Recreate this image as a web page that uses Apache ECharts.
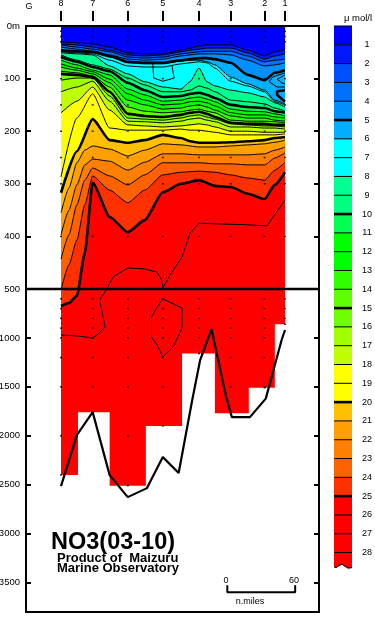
<!DOCTYPE html>
<html><head><meta charset="utf-8">
<style>html,body{margin:0;padding:0;background:#fff}#c{width:375px;height:618px}</style>
<script src="https://cdn.jsdelivr.net/npm/echarts@6/dist/echarts.min.js"></script>
</head><body><div id="c"></div>
<script>
// distance along section in n.miles, depth in metres
const stationNames = ['8','7','6','5','4','3','2','1'];
const stationMiles = [31,59,90,121,153,181,211,229];
const stationLast  = [2400,1760,2510,1900,1160,1770,1510,860];
const sampleDepths = [10,20,30,100,150,200,250,300,400,500,600,700,800,900,1000,1200,1500,2000,2500];
const depthTicks = [0,100,200,300,400,500,1000,1500,2000,2500,3000,3500];
const levelTicks = [1,2,3,4,5,6,7,8,9,10,11,12,13,14,15,16,17,18,19,20,21,22,23,24,25,26,27,28];
const bandColors = ['#0000ff','#0018ff','#0050ff','#0070ff','#0090ff','#00b0ff','#00ffff','#00ffff','#00ff90','#00ff80','#00ff50','#00ff00','#00ff00','#30ff00','#60ff00','#70ff00','#a0ff00','#c0ff00','#ffff00','#ffff00','#ffc000','#ffa000','#ff8000','#ff6000','#ff3000','#ff0000','#ff0000','#ff0000','#ff0000'];

const upperMiles = [31,45,59,74,90,105,121,137,145,153,160,167,181,196,211,220,229];
const L01 = [30,32,34,40,51,53,53,46,42,38,36,36,36,46,57,49,44];
const L02 = [34,36,40,46,55,57,55,49,46,44,42,42,42,51,63,57,53];
const L03 = [36,40,44,49,59,61,59,53,51,49,48,48,48,57,68,65,63];
const L04 = [40,44,48,55,63,65,63,57,55,53,53,53,55,65,76,74,70];
const L05 = [46,48,49,57,68,70,70,65,63,61,61,63,70,93,103,89,84];
const L06 = [48,49,51,59,70,72,72,67,65,65,68,74,97,110,122,141,148];
const L07 = [49,51,53,65,76,78,78,72,70,68,70,80,105,114,125,144,150];
const L08 = [51,53,55,76,91,106,116,120,106,80,106,114,122,127,135,146,154];
const L09 = [55,65,74,82,99,112,125,125,122,114,118,125,141,144,148,156,162];
const L10 = [59,68,78,86,108,122,135,133,129,127,131,137,150,154,156,162,165];
const L11 = [65,74,84,93,120,131,143,141,137,135,139,144,158,162,163,167,171];
const L12 = [72,80,87,101,129,141,150,148,144,143,146,152,165,169,169,173,175];
const L13 = [78,84,91,108,141,150,158,156,152,150,154,160,171,175,175,179,181];
const L14 = [86,89,95,116,154,162,165,163,160,158,162,165,179,181,181,182,184];
const L15 = [91,93,97,125,167,171,173,169,165,163,167,173,184,186,186,188,188];
const L16 = [103,99,99,133,175,177,179,175,171,169,173,177,186,188,190,190,192];
const L17 = [125,116,105,143,181,182,184,181,177,175,179,182,192,192,194,194,196];
const L18 = [165,143,116,160,188,190,192,190,188,186,188,192,200,200,202,202,202];
const L19 = [287,175,129,194,198,198,198,196,198,198,200,202,207,207,207,207,205];
const L20 = [317,238,177,217,222,217,207,213,219,222,222,222,221,219,217,213,211];

const lowerMiles = [31,38,45,52,59,74,90,105,121,137,153,167,181,196,211,220,229];
const L21 = [355,308,260,236,228,234,247,236,224,226,230,230,228,226,224,221,217];
const L22 = [397,350,302,264,253,257,274,259,243,243,245,245,245,245,243,236,230];
const L23 = [443,397,340,293,270,285,302,283,260,260,260,262,262,264,264,251,241];
const L24 = [510,454,407,340,285,312,336,312,283,278,276,278,283,289,293,274,259];
const L25 = [674,643,572,432,298,363,392,369,316,300,293,304,306,319,329,302,278];

const L26Miles  = [31,45,59,65,70,67,65,71,77,90,105,116,120,121,127,138,145,153,196,213,229];
const L26Depths = [969,980,1000,949,888,714,612,510,477,460,462,468,483,498,475,439,394,375,378,380,331];
const bubbleMiles  = [121,138,138,130,121,116,111,111,116,121];
const bubbleDepths = [602,694,899,1093,1195,1073,991,786,684,602];
const pocketMiles  = [112,113,121,131,129];
const pocketDepths = [70,99,105,99,74];
const loopOuterMiles  = [229,218,215,222,229];
const loopOuterDepths = [89,97,106,116,116];
const loopInnerMiles  = [229,222,226,229];
const loopInnerDepths = [93,101,108,110];
const thickCMiles  = [229,222,222,229];
const thickCDepths = [122,124,131,144];

const stepMiles  = [30.5,46,46,74,74,106,106,138,138,167,167,197,197,220,220,229.5];
const stepDepths = [2400,2400,1760,1760,2510,2510,1900,1900,1160,1160,1770,1770,1510,1510,860,860];
const bottomMiles  = [31,45,59,74,90,107,121,135,147,154,164,177,182,198,212,226,229];
const bottomDepths = [2514,1993,1758,2402,2627,2535,2218,2381,1635,1226,909,1604,1809,1809,1620,1021,919];

const scaleBarMiles = [178,238];
const scaleBarDepths = [3598,3527];

const R = 0.186;
const yOf = d => d <= 500 ? d : 500 + (d - 500) * R;
const dOf = y => y <= 500 ? y : 500 + (y - 500) / R;
const yMax = 1114, xMin = 0.0625, xMax = 259.05;
const pairs = (xs, ds) => xs.map((x, i) => [x, yOf(ds[i])]);

const fillSeries = (data, color, line, width, z, smooth) => ({
  type:'line', data, z, symbol:'none', silent:true, animation:false,
  smooth: smooth ? 0.2 : false, smoothMonotone: smooth ? 'x' : undefined,
  lineStyle:{color:line||'#000', width:line?width:0, opacity:line?1:0},
  areaStyle:{color, opacity:1, origin:'end'}
});
const plainLine = (data, width, z, clip) => ({
  type:'line', data, z, symbol:'none', silent:true, animation:false, clip: clip !== false,
  lineStyle:{color:'#000', width}
});

const series = [];
series.push(fillSeries(pairs(upperMiles, upperMiles.map(() => 0)), bandColors[0], null, 0, 2));
[L01,L02,L03,L04,L05,L06,L07,L08,L09,L10,L11,L12,L13,L14,L15,L16,L17,L18,L19,L20].forEach((a, i) => {
  const lv = i + 1;
  series.push(fillSeries(pairs(upperMiles, a), bandColors[lv], '#000', lv % 5 ? 1 : 2.6, 3, true));
});
[L21,L22,L23,L24,L25].forEach((a, i) => {
  const lv = i + 21;
  series.push(fillSeries(pairs(lowerMiles, a), bandColors[lv], '#000', lv % 5 ? 1 : 2.6, 3, true));
});
series.push(plainLine(pairs(L26Miles, L26Depths), 1, 4));
series.push(plainLine(pairs(bubbleMiles, bubbleDepths), 1, 4));
series.push(plainLine(pairs(pocketMiles, pocketDepths), 1, 4));
series.push(plainLine(pairs(loopOuterMiles, loopOuterDepths), 1, 4));
series.push(plainLine(pairs(loopInnerMiles, loopInnerDepths), 1, 4));
series.push(plainLine(pairs(thickCMiles, thickCDepths), 2.6, 4));
series.push(fillSeries(pairs(stepMiles, stepDepths), '#ffffff', null, 0, 5));
series.push(plainLine(pairs(bottomMiles, bottomDepths), 2.2, 6));

const dots = [];
stationMiles.forEach((m, i) => {
  sampleDepths.concat([stationLast[i]]).forEach(d => { if (d <= stationLast[i]) dots.push([m, yOf(d)]); });
});
series.push({type:'scatter', data:dots, z:7, symbol:'rect', symbolSize:[2,1.5], silent:true, animation:false, itemStyle:{color:'#000'}});
series.push(plainLine([[xMin, yOf(500)], [xMax, yOf(500)]], 2.4, 8));
series.push(plainLine([[xMin, 0], [xMax, 0]], 2, 8, false));
series.push(plainLine([[xMin, yMax], [xMax, yMax]], 2, 8, false));
series.push(plainLine([
  [scaleBarMiles[0], yOf(scaleBarDepths[1])], [scaleBarMiles[0], yOf(scaleBarDepths[0])],
  [scaleBarMiles[1], yOf(scaleBarDepths[0])], [scaleBarMiles[1], yOf(scaleBarDepths[1])]
], 2, 8));

series.push({
  type:'custom', xAxisIndex:1, yAxisIndex:2, silent:true, animation:false, z:3,
  data: bandColors.map((c, i) => [i]),
  renderItem(params, api) {
    const i = api.value(0);
    const [xL] = api.coord([0, i]);
    const [xR, yT] = api.coord([1, i]);
    const last = i === bandColors.length - 1;
    const yB = api.coord([1, last ? 28.75 : i + 1])[1];
    const pts = last
      ? [[xL,yT],[xR,yT],[xR,yB+1],[xR-4,yB+1.5],[xR-8,yB-1],[xR-10,yB-2.5],[xR-13,yB-1],[xR-16,yB+1],[xL,yB]]
      : [[xL,yT],[xR,yT],[xR,yB],[xL,yB]];
    const kids = [{type:'polygon', shape:{points:pts}, style:{fill:bandColors[i], stroke:null}}];
    const thick = i > 0 && i % 5 === 0;
    kids.push({type:'line', z2:2, shape:{x1:xL,y1:yT,x2:xR,y2:yT}, style:{stroke:'#000', lineWidth:thick?2.6:1}});
    if (last) kids.push({type:'polyline', z2:2, shape:{points:pts.slice(2)}, style:{stroke:'#000', lineWidth:1, fill:null}});
    return {type:'group', children:kids};
  }
});

const T = (x, y, text, font, extra) => ({type:'text', x, y, z:20, style:Object.assign({text, font, fill:'#000', textVerticalAlign:'middle'}, extra||{})});
const F = '"Liberation Sans", Arial, sans-serif';

const chart = echarts.init(document.getElementById('c'), null, {renderer:'canvas'});
chart.setOption({
  animation:false, backgroundColor:'#fff',
  grid:[
    {left:26, top:26, width:293, height:586, show:true, borderColor:'#000', borderWidth:2, backgroundColor:'transparent', containLabel:false, outerBoundsMode:'none'},
    {left:334, top:26, width:18, height:541.6, show:false, containLabel:false, outerBoundsMode:'none'},
    {left:26, top:20, width:293, height:1, show:false, containLabel:false, outerBoundsMode:'none'}
  ],
  xAxis:[
    {type:'value', gridIndex:0, min:xMin, max:xMax, show:false},
    {type:'value', gridIndex:1, min:0, max:1, show:false},
    {type:'value', gridIndex:2, min:xMin, max:xMax, position:'top', splitLine:{show:false},
     axisLine:{show:false},
     axisTick:{show:true, length:10, customValues:stationMiles, lineStyle:{color:'#000', width:2}},
     axisLabel:{show:true, customValues:stationMiles, margin:12, fontSize:9, fontFamily:F, color:'#000',
       formatter:v => stationNames[stationMiles.indexOf(v)]}}
  ],
  yAxis:[
    {type:'value', gridIndex:0, min:0, max:yMax, inverse:true, position:'left', splitLine:{show:false},
     axisLine:{show:false},
     axisTick:{show:true, inside:true, length:5, customValues:depthTicks.map(yOf), lineStyle:{color:'#000', width:2}},
     axisLabel:{show:true, customValues:depthTicks.map(yOf), margin:6, fontSize:9.5, fontFamily:F, color:'#000',
       formatter:v => { const d = Math.round(dOf(v)); return d === 0 ? '0m' : String(d); }}},
    {type:'value', gridIndex:0, min:0, max:yMax, inverse:true, position:'right', splitLine:{show:false},
     axisLine:{show:false},
     axisTick:{show:true, inside:true, length:5, customValues:depthTicks.map(yOf), lineStyle:{color:'#000', width:2}},
     axisLabel:{show:false}},
    {type:'value', gridIndex:1, min:0, max:28.8, inverse:true, position:'right', splitLine:{show:false},
     axisLine:{show:false}, axisTick:{show:false},
     axisLabel:{show:true, customValues:levelTicks, margin:15, align:'center', fontSize:9, fontFamily:F, color:'#000',
       formatter:v => String(v)}},
    {type:'value', gridIndex:2, min:0, max:1, show:false}
  ],
  graphic:[
    T(29, 7, 'G', '9px '+F, {textAlign:'center'}),
    T(358, 18, 'μ mol/l', '9.5px '+F, {textAlign:'center'}),
    T(51, 543, 'NO3(03-10)', 'bold 23.5px '+F),
    T(57, 558.5, 'Product of  Maizuru', 'bold 13px '+F),
    T(57, 568.5, 'Marine Observatory', 'bold 13px '+F),
    T(226, 581, '0', '9px '+F, {textAlign:'center'}),
    T(294, 581, '60', '9px '+F, {textAlign:'center'}),
    T(250, 602, 'n.miles', '9px '+F, {textAlign:'center'})
  ],
  series: series.map(s => s.type === 'custom' ? s : Object.assign({xAxisIndex:0, yAxisIndex:0}, s))
});
</script></body></html>
